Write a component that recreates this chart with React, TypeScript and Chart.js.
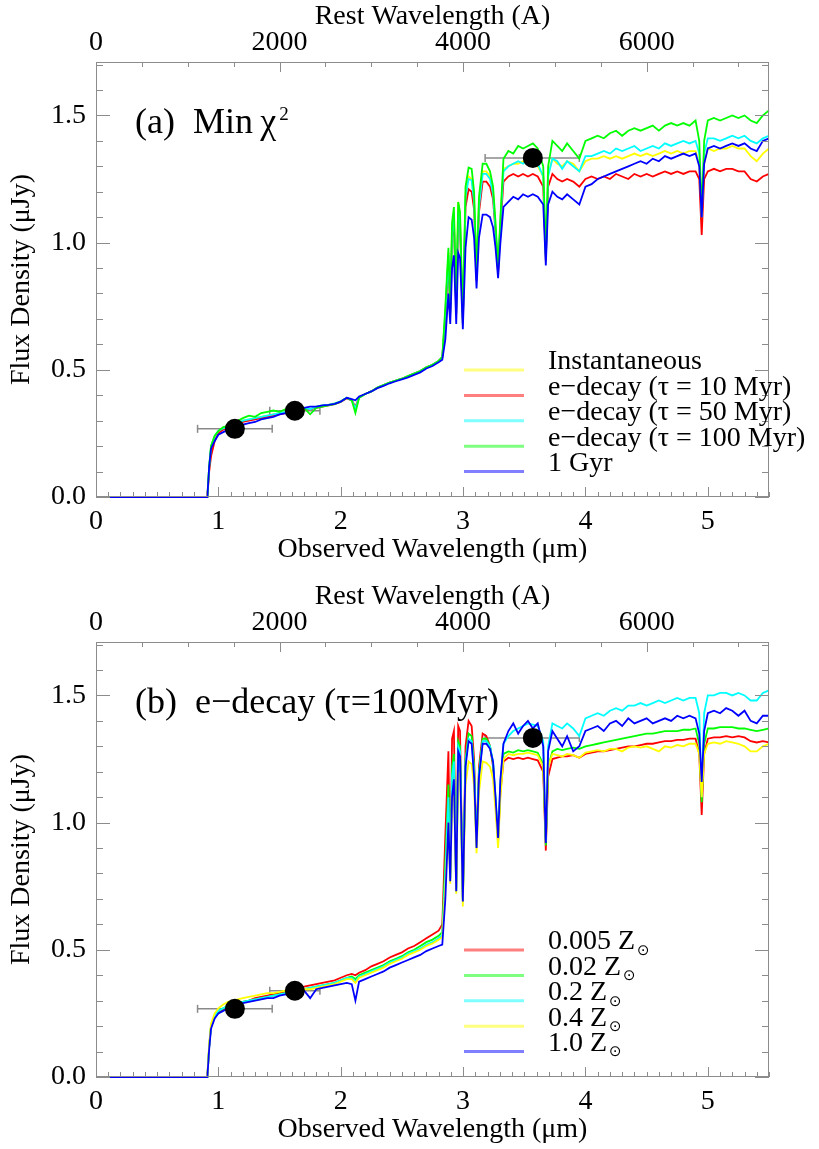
import React, { useEffect, useRef } from "react";
import { Chart, registerables } from "chart.js";
Chart.register(...registerables);

const FONT = "'Liberation Serif', 'Times New Roman', Times, serif";
const ONE_PLUS_Z = 7.5;
const X_MAX_UM = 5.5;
const Y_MIN = 0;
const Y_MAX = 1.71;

// tick labels
const OBS_TICKS_UM = [0, 1, 2, 3, 4, 5];
const REST_TICKS_A = [0, 2000, 4000, 6000];
const FLUX_TICKS = [0, 0.5, 1.0, 1.5];

// observed wavelength grid (micron)
const WAVELENGTH_UM = [
  0.10, 0.91, 0.925, 0.94, 0.97, 1.00, 1.04, 1.08, 1.12, 1.16,
  1.20, 1.25, 1.30, 1.35, 1.40, 1.45, 1.50, 1.55, 1.60, 1.65,
  1.70, 1.75, 1.80, 1.85, 1.90, 1.95, 2.00, 2.05, 2.09, 2.12,
  2.15, 2.20, 2.25, 2.30, 2.35, 2.40, 2.45, 2.50, 2.55, 2.60,
  2.65, 2.70, 2.75, 2.80, 2.83, 2.855, 2.88, 2.895, 2.91, 2.925,
  2.944, 2.96, 2.975, 2.998, 3.02, 3.045, 3.07, 3.09, 3.11, 3.13,
  3.16, 3.19, 3.22, 3.245, 3.265, 3.286, 3.305, 3.33, 3.37, 3.41,
  3.45, 3.49, 3.53, 3.57, 3.61, 3.655, 3.676, 3.695, 3.73, 3.77,
  3.81, 3.85, 3.90, 3.95, 4.00, 4.05, 4.10, 4.15, 4.20, 4.25,
  4.30, 4.35, 4.40, 4.45, 4.50, 4.55, 4.60, 4.65, 4.70, 4.75,
  4.80, 4.85, 4.90, 4.93, 4.95, 4.97, 5.00, 5.05, 5.10, 5.15,
  5.20, 5.25, 5.30, 5.35, 5.40, 5.45, 5.50,
];

// ---- Panel (a): star formation histories ----
const A_INST = [
  0, 0, 0.12, 0.20, 0.24, 0.255, 0.27, 0.275, 0.28, 0.29,
  0.30, 0.305, 0.31, 0.315, 0.32, 0.325, 0.33, 0.335, 0.34, 0.345,
  0.35, 0.345, 0.355, 0.36, 0.362, 0.368, 0.376, 0.39, 0.38, 0.35,
  0.39, 0.405, 0.415, 0.43, 0.44, 0.45, 0.458, 0.465, 0.475, 0.485,
  0.495, 0.51, 0.52, 0.535, 0.55, 0.72, 0.96, 0.74, 1.06, 1.12,
  0.74, 1.16, 1.10, 0.68, 1.19, 1.26, 1.25, 1.17, 0.87, 1.16,
  1.28, 1.28, 1.26, 1.20, 1.06, 0.89, 1.09, 1.29, 1.30, 1.31,
  1.31, 1.32, 1.31, 1.32, 1.30, 1.26, 0.95, 1.27, 1.33, 1.31,
  1.30, 1.32, 1.31, 1.28, 1.32, 1.33, 1.33, 1.34, 1.33, 1.34,
  1.33, 1.34, 1.35, 1.34, 1.35, 1.34, 1.35, 1.36, 1.35, 1.36,
  1.35, 1.36, 1.36, 1.31, 1.08, 1.31, 1.37, 1.36, 1.37, 1.37,
  1.38, 1.37, 1.37, 1.34, 1.32, 1.35, 1.37,
];
const A_TAU10 = [
  0, 0, 0.10, 0.16, 0.22, 0.25, 0.265, 0.27, 0.28, 0.29,
  0.295, 0.30, 0.305, 0.31, 0.315, 0.32, 0.325, 0.33, 0.335, 0.34,
  0.345, 0.345, 0.35, 0.355, 0.36, 0.365, 0.374, 0.388, 0.38, 0.355,
  0.39, 0.405, 0.415, 0.43, 0.44, 0.45, 0.458, 0.465, 0.475, 0.485,
  0.495, 0.51, 0.52, 0.535, 0.55, 0.70, 0.92, 0.72, 1.02, 1.08,
  0.72, 1.10, 1.06, 0.68, 1.14, 1.21, 1.20, 1.13, 0.85, 1.12,
  1.24, 1.24, 1.22, 1.17, 1.04, 0.88, 1.06, 1.24, 1.26, 1.27,
  1.26, 1.27, 1.26, 1.27, 1.26, 1.22, 0.93, 1.22, 1.27, 1.25,
  1.24, 1.25, 1.24, 1.22, 1.25, 1.26, 1.25, 1.26, 1.25, 1.27,
  1.26, 1.25, 1.27, 1.26, 1.27, 1.26, 1.27, 1.28, 1.27, 1.28,
  1.27, 1.28, 1.28, 1.25, 1.03, 1.25, 1.28, 1.29, 1.28, 1.29,
  1.29, 1.28, 1.28, 1.25, 1.24, 1.26, 1.27,
];
const A_TAU50 = [
  0, 0, 0.12, 0.20, 0.24, 0.26, 0.27, 0.275, 0.285, 0.29,
  0.30, 0.305, 0.31, 0.315, 0.32, 0.325, 0.33, 0.335, 0.34, 0.345,
  0.35, 0.345, 0.355, 0.36, 0.362, 0.368, 0.376, 0.39, 0.38, 0.35,
  0.39, 0.405, 0.415, 0.43, 0.44, 0.45, 0.458, 0.465, 0.475, 0.485,
  0.495, 0.51, 0.52, 0.535, 0.55, 0.72, 0.95, 0.72, 1.04, 1.10,
  0.72, 1.12, 1.08, 0.68, 1.18, 1.25, 1.245, 1.16, 0.86, 1.14,
  1.27, 1.27, 1.25, 1.19, 1.05, 0.89, 1.08, 1.28, 1.30, 1.31,
  1.32, 1.31, 1.33, 1.32, 1.31, 1.26, 0.94, 1.26, 1.33, 1.32,
  1.29, 1.32, 1.30, 1.28, 1.34, 1.34, 1.35, 1.36, 1.35, 1.37,
  1.36, 1.37, 1.38, 1.36, 1.37, 1.38, 1.37, 1.39, 1.38, 1.39,
  1.40, 1.39, 1.40, 1.35, 1.10, 1.35, 1.41, 1.41, 1.40, 1.41,
  1.42, 1.41, 1.42, 1.40, 1.39, 1.41, 1.42,
];
const A_TAU100 = [
  0, 0, 0.12, 0.20, 0.24, 0.26, 0.275, 0.28, 0.29, 0.30,
  0.31, 0.32, 0.315, 0.33, 0.335, 0.34, 0.335, 0.345, 0.34, 0.345,
  0.35, 0.325, 0.35, 0.355, 0.36, 0.365, 0.375, 0.39, 0.38, 0.33,
  0.39, 0.405, 0.415, 0.43, 0.44, 0.45, 0.458, 0.465, 0.475, 0.485,
  0.495, 0.51, 0.52, 0.535, 0.55, 0.75, 0.98, 0.74, 1.08, 1.14,
  0.74, 1.16, 1.12, 0.70, 1.22, 1.295, 1.29, 1.20, 0.88, 1.18,
  1.31, 1.31, 1.28, 1.22, 1.08, 0.90, 1.10, 1.33, 1.36, 1.35,
  1.38, 1.37, 1.38, 1.39, 1.37, 1.30, 0.95, 1.30, 1.40, 1.38,
  1.36, 1.39, 1.36, 1.33, 1.40, 1.41, 1.42, 1.41, 1.43, 1.44,
  1.42, 1.44, 1.45, 1.44, 1.45, 1.46, 1.44, 1.46, 1.47, 1.46,
  1.47, 1.46, 1.48, 1.40, 1.12, 1.40, 1.48, 1.49, 1.48, 1.49,
  1.50, 1.49, 1.50, 1.48, 1.47, 1.50, 1.52,
];
const A_1GYR = [
  0, 0, 0.12, 0.19, 0.22, 0.245, 0.255, 0.265, 0.27, 0.275,
  0.285, 0.29, 0.295, 0.305, 0.31, 0.315, 0.325, 0.33, 0.335, 0.345,
  0.35, 0.355, 0.355, 0.36, 0.362, 0.366, 0.375, 0.39, 0.385, 0.38,
  0.395, 0.405, 0.415, 0.428, 0.437, 0.447, 0.455, 0.462, 0.47, 0.48,
  0.49, 0.505, 0.515, 0.53, 0.54, 0.62, 0.80, 0.68, 0.90, 0.95,
  0.68, 0.96, 0.94, 0.66, 0.98, 1.10, 1.09, 1.02, 0.82, 1.02,
  1.11, 1.11, 1.10, 1.06, 0.98, 0.86, 1.00, 1.14, 1.16, 1.18,
  1.17, 1.19, 1.18, 1.19, 1.18, 1.15, 0.91, 1.15, 1.20, 1.18,
  1.17, 1.19, 1.17, 1.15, 1.22, 1.23, 1.25, 1.26, 1.27, 1.28,
  1.29, 1.30, 1.31, 1.32, 1.31, 1.33, 1.32, 1.34, 1.33, 1.34,
  1.35, 1.34, 1.35, 1.30, 1.10, 1.31, 1.37, 1.38, 1.37, 1.38,
  1.39, 1.38, 1.39, 1.37, 1.36, 1.40, 1.41,
];

// ---- Panel (b): metallicities for e-decay tau=100 Myr ----
const B_Z0005 = [
  0, 0, 0.12, 0.20, 0.24, 0.255, 0.265, 0.275, 0.28, 0.29,
  0.295, 0.30, 0.31, 0.315, 0.32, 0.325, 0.33, 0.335, 0.34, 0.345,
  0.355, 0.36, 0.365, 0.37, 0.375, 0.38, 0.39, 0.40, 0.405, 0.40,
  0.41, 0.42, 0.435, 0.445, 0.455, 0.47, 0.48, 0.49, 0.505, 0.515,
  0.53, 0.545, 0.56, 0.575, 0.60, 0.95, 1.28, 0.80, 1.33, 1.36,
  0.74, 1.38, 1.36, 0.70, 1.30, 1.40, 1.38, 1.25, 0.91, 1.22,
  1.35, 1.34, 1.30, 1.22, 1.08, 0.92, 1.12, 1.24, 1.255, 1.25,
  1.255, 1.25, 1.255, 1.25, 1.245, 1.20, 0.89, 1.18, 1.25, 1.255,
  1.26, 1.26, 1.265, 1.255, 1.27, 1.275, 1.28, 1.28, 1.285, 1.29,
  1.295, 1.30, 1.30, 1.305, 1.31, 1.31, 1.315, 1.32, 1.32, 1.325,
  1.325, 1.33, 1.33, 1.27, 1.03, 1.27, 1.33, 1.335, 1.335, 1.34,
  1.335, 1.34, 1.335, 1.32, 1.315, 1.32, 1.315,
];
const B_Z002 = [
  0, 0, 0.12, 0.20, 0.24, 0.26, 0.27, 0.28, 0.285, 0.29,
  0.295, 0.30, 0.305, 0.31, 0.315, 0.32, 0.325, 0.33, 0.335, 0.34,
  0.345, 0.35, 0.355, 0.36, 0.365, 0.37, 0.38, 0.39, 0.395, 0.385,
  0.40, 0.41, 0.42, 0.43, 0.44, 0.455, 0.465, 0.475, 0.49, 0.50,
  0.515, 0.53, 0.54, 0.555, 0.57, 0.85, 1.15, 0.78, 1.22, 1.27,
  0.73, 1.32, 1.30, 0.69, 1.25, 1.35, 1.34, 1.22, 0.91, 1.20,
  1.33, 1.33, 1.30, 1.23, 1.09, 0.93, 1.14, 1.27, 1.28, 1.275,
  1.285, 1.28, 1.285, 1.28, 1.275, 1.23, 0.91, 1.22, 1.28, 1.29,
  1.285, 1.29, 1.295, 1.29, 1.30, 1.305, 1.31, 1.315, 1.32, 1.325,
  1.33, 1.335, 1.34, 1.345, 1.35, 1.35, 1.355, 1.36, 1.36, 1.36,
  1.365, 1.365, 1.37, 1.31, 1.08, 1.31, 1.37, 1.37, 1.375, 1.375,
  1.375, 1.37, 1.37, 1.365, 1.36, 1.365, 1.37,
];
const B_Z02 = [
  0, 0, 0.12, 0.20, 0.24, 0.26, 0.27, 0.28, 0.285, 0.29,
  0.295, 0.30, 0.305, 0.31, 0.315, 0.32, 0.325, 0.33, 0.335, 0.34,
  0.345, 0.35, 0.355, 0.36, 0.365, 0.37, 0.38, 0.39, 0.39, 0.375,
  0.395, 0.405, 0.415, 0.425, 0.435, 0.45, 0.46, 0.47, 0.485, 0.495,
  0.505, 0.52, 0.53, 0.545, 0.56, 0.80, 1.10, 0.78, 1.18, 1.24,
  0.73, 1.30, 1.28, 0.69, 1.24, 1.33, 1.32, 1.20, 0.90, 1.19,
  1.32, 1.32, 1.30, 1.24, 1.10, 0.93, 1.16, 1.31, 1.34, 1.36,
  1.37, 1.38, 1.39, 1.385, 1.38, 1.32, 0.93, 1.30, 1.39, 1.38,
  1.37, 1.39, 1.37, 1.34, 1.41, 1.42, 1.43, 1.42, 1.44, 1.45,
  1.44, 1.46, 1.46, 1.47, 1.46, 1.47, 1.48, 1.47, 1.48, 1.49,
  1.48, 1.49, 1.49, 1.43, 1.10, 1.43, 1.50, 1.50, 1.51, 1.51,
  1.50, 1.51, 1.50, 1.48, 1.48, 1.51, 1.52,
];
const B_Z04 = [
  0, 0, 0.13, 0.21, 0.25, 0.27, 0.285, 0.295, 0.30, 0.305,
  0.31, 0.315, 0.32, 0.325, 0.33, 0.33, 0.335, 0.34, 0.34, 0.345,
  0.345, 0.345, 0.35, 0.355, 0.36, 0.365, 0.375, 0.385, 0.385, 0.37,
  0.39, 0.40, 0.41, 0.42, 0.43, 0.445, 0.455, 0.465, 0.48, 0.49,
  0.50, 0.515, 0.525, 0.54, 0.55, 0.75, 1.00, 0.76, 1.08, 1.14,
  0.72, 1.20, 1.19, 0.67, 1.15, 1.24, 1.23, 1.14, 0.88, 1.12,
  1.24, 1.235, 1.22, 1.17, 1.05, 0.90, 1.10, 1.25, 1.27, 1.265,
  1.27, 1.27, 1.275, 1.27, 1.265, 1.22, 0.95, 1.22, 1.27, 1.265,
  1.26, 1.27, 1.265, 1.255, 1.275, 1.28, 1.285, 1.28, 1.29, 1.29,
  1.28, 1.295, 1.30, 1.295, 1.30, 1.29, 1.28, 1.30, 1.295, 1.305,
  1.30, 1.31, 1.31, 1.27, 1.10, 1.27, 1.31, 1.315, 1.31, 1.32,
  1.315, 1.31, 1.30, 1.28, 1.28, 1.30, 1.31,
];
const B_Z1 = [
  0, 0, 0.11, 0.19, 0.23, 0.25, 0.26, 0.27, 0.28, 0.285,
  0.29, 0.295, 0.30, 0.305, 0.31, 0.31, 0.32, 0.325, 0.33, 0.335,
  0.34, 0.31, 0.345, 0.35, 0.355, 0.36, 0.365, 0.37, 0.365, 0.30,
  0.375, 0.385, 0.395, 0.405, 0.415, 0.43, 0.44, 0.45, 0.46, 0.47,
  0.48, 0.495, 0.505, 0.515, 0.52, 0.70, 1.00, 0.77, 1.10, 1.17,
  0.73, 1.28, 1.26, 0.69, 1.22, 1.32, 1.31, 1.18, 0.90, 1.18,
  1.31, 1.31, 1.29, 1.24, 1.10, 0.94, 1.17, 1.31, 1.36, 1.39,
  1.35, 1.38, 1.40, 1.37, 1.39, 1.30, 0.92, 1.28, 1.36, 1.33,
  1.30, 1.34, 1.28, 1.30, 1.36, 1.37, 1.38, 1.36, 1.39, 1.40,
  1.38, 1.41, 1.39, 1.40, 1.41, 1.39, 1.40, 1.41, 1.40, 1.42,
  1.41, 1.42, 1.41, 1.35, 1.16, 1.36, 1.43, 1.44, 1.43, 1.45,
  1.44, 1.42, 1.44, 1.40, 1.39, 1.42, 1.42,
];

// photometry
const PHOT_X_UM = [1.135, 1.625, 3.57];
const PHOT_FLUX = [0.268, 0.339, 1.333];
const PHOT_XLO_UM = [0.83, 1.42, 3.18];
const PHOT_XHI_UM = [1.44, 1.83, 3.95];

const LABELS_A = [
  "Instantaneous",
  "e\u2212decay (\u03c4 = 10 Myr)",
  "e\u2212decay (\u03c4 = 50 Myr)",
  "e\u2212decay (\u03c4 = 100 Myr)",
  "1 Gyr",
];
const LABELS_B = ["0.005 Z", "0.02 Z", "0.2 Z", "0.4 Z", "1.0 Z"];
const SUN = "\u2299";

const PANELS = [
  {
    key: "a",
    height: 580,
    title: "(a)  Min\u2009\u03c7",
    sup: "2",
    sub: "",
    series: [
      { label: LABELS_A[0], color: "#ffff00", data: A_INST, order: 6 },
      { label: LABELS_A[1], color: "#ff0000", data: A_TAU10, order: 5 },
      { label: LABELS_A[2], color: "#00ffff", data: A_TAU50, order: 4 },
      { label: LABELS_A[3], color: "#00ff00", data: A_TAU100, order: 3 },
      { label: LABELS_A[4], color: "#0000ff", data: A_1GYR, order: 2 },
    ],
  },
  {
    key: "b",
    height: 569,
    title: "(b)  e\u2212decay (\u03c4=100Myr)",
    sup: "",
    sub: SUN,
    series: [
      { label: LABELS_B[0], color: "#ff0000", data: B_Z0005, order: 6 },
      { label: LABELS_B[1], color: "#00ff00", data: B_Z002, order: 5 },
      { label: LABELS_B[2], color: "#00ffff", data: B_Z02, order: 4 },
      { label: LABELS_B[3], color: "#ffff00", data: B_Z04, order: 3 },
      { label: LABELS_B[4], color: "#0000ff", data: B_Z1, order: 2 },
    ],
  },
];

const FRAME = "#8c8c8c";
const AREA_TOP = 62;
const AREA_BOTTOM = 497;
const AREA_LEFT = 96;
const AREA_RIGHT = 769;

function decorPlugin(panel: any) {
  return {
    id: "decor" + panel.key,
    afterDraw(chart: any) {
      const { ctx, chartArea: a, scales } = chart;
      ctx.save();
      ctx.strokeStyle = FRAME;
      ctx.lineWidth = 1;
      ctx.strokeRect(a.left + 0.5, a.top + 0.5, a.right - a.left - 1, a.bottom - a.top - 1);
      const line = (x1: number, y1: number, x2: number, y2: number) => {
        ctx.beginPath();
        ctx.moveTo(x1, y1);
        ctx.lineTo(x2, y2);
        ctx.stroke();
      };
      // bottom axis ticks (observed, micron)
      const sx = scales.x;
      for (let k = 0; k * 0.1 <= sx.max + 1e-9; k++) {
        const px = Math.round(sx.getPixelForValue(k * 0.1)) + 0.5;
        const len = k % 10 === 0 ? 10 : 5;
        line(px, a.bottom, px, a.bottom - len);
      }
      // top axis ticks (rest frame, Angstrom)
      const sx2 = scales.x2;
      for (let k = 0; k * 500 <= sx2.max + 1e-9; k++) {
        const px = Math.round(sx2.getPixelForValue(k * 500)) + 0.5;
        const len = k % 4 === 0 ? 10 : 5;
        line(px, a.top, px, a.top + len);
      }
      // y ticks both sides
      const sy = scales.y;
      for (let k = 0; k * 0.1 <= sy.max + 1e-9; k++) {
        const py = Math.round(sy.getPixelForValue(k * 0.1)) + 0.5;
        const len = k % 5 === 0 ? 14 : 7;
        line(a.left, py, a.left + len, py);
        line(a.right, py, a.right - len, py);
      }
      // title
      ctx.fillStyle = "#000";
      ctx.textBaseline = "alphabetic";
      ctx.textAlign = "left";
      ctx.font = `36px ${FONT}`;
      ctx.fillText(panel.title, 135, 133);
      if (panel.sup) {
        const w = ctx.measureText(panel.title).width;
        ctx.font = `19px ${FONT}`;
        ctx.fillText(panel.sup, 135 + w + 3, 120);
      }
      // legend
      const metas = chart.data.datasets;
      panel.series.forEach((s: any, i: number) => {
        const ly = 370 + i * 25.4;
        ctx.save();
        ctx.globalAlpha = 0.5;
        ctx.strokeStyle = metas[i].borderColor;
        ctx.lineWidth = 3;
        line(464, ly, 524, ly);
        ctx.restore();
        ctx.fillStyle = "#000";
        ctx.font = `28px ${FONT}`;
        ctx.textBaseline = "middle";
        ctx.fillText(metas[i].label, 548, ly - 8);
        if (panel.sub) {
          const w = ctx.measureText(metas[i].label).width;
          ctx.font = `15px 'DejaVu Sans', sans-serif`;
          ctx.fillText(panel.sub, 548 + w + 2, ly + 1);
        }
      });
      ctx.restore();
    },
  };
}

function fixedTicks(values: number[]) {
  return (s: any) => {
    s.ticks = values.map((v) => ({ value: v }));
  };
}

function buildConfig(panel: any) {
  const tickFont = { family: FONT, size: 28 };
  const spectra = panel.series.map((s: any) => ({
    type: "line",
    label: s.label,
    data: WAVELENGTH_UM.map((x, i) => ({ x, y: s.data[i] })),
    borderColor: s.color,
    backgroundColor: s.color,
    borderWidth: 1.8,
    pointRadius: 0,
    tension: 0,
    order: s.order,
    clip: false,
    xAxisID: "x",
    yAxisID: "y",
  }));
  const bars = PHOT_X_UM.map((_, i) => ({
    type: "line",
    label: "err" + i,
    data: [
      { x: PHOT_XLO_UM[i], y: PHOT_FLUX[i] },
      { x: PHOT_XHI_UM[i], y: PHOT_FLUX[i] },
    ],
    borderColor: "#8a8a8a",
    borderWidth: 1.5,
    pointStyle: "line",
    pointRotation: 90,
    pointRadius: 4,
    pointBorderColor: "#8a8a8a",
    pointBorderWidth: 1.5,
    order: 10,
    xAxisID: "x",
    yAxisID: "y",
  }));
  const dots = {
    type: "scatter",
    label: "phot",
    data: PHOT_X_UM.map((x, i) => ({ x, y: PHOT_FLUX[i] })),
    pointRadius: 10,
    pointBackgroundColor: "#000",
    pointBorderColor: "#000",
    pointBorderWidth: 0,
    showLine: false,
    order: 0,
    xAxisID: "x",
    yAxisID: "y",
  };
  return {
    type: "line",
    data: { datasets: [...spectra, ...bars, dots] },
    options: {
      animation: false,
      responsive: false,
      events: [],
      layout: { padding: { left: 0, right: 819 - AREA_RIGHT, top: 0, bottom: 0 } },
      plugins: { legend: { display: false }, tooltip: { enabled: false }, title: { display: false } },
      scales: {
        x: {
          type: "linear",
          position: "bottom",
          min: 0,
          max: X_MAX_UM,
          afterBuildTicks: fixedTicks(OBS_TICKS_UM),
          afterFit: (s: any) => { s.height = panel.height - AREA_BOTTOM; },
          grid: { display: false, drawTicks: false },
          border: { display: false },
          ticks: {
            autoSkip: false, maxRotation: 0, minRotation: 0,
            padding: 8, color: "#000", font: tickFont,
            callback: (v: any) => String(v),
          },
          title: {
            display: true, text: "Observed Wavelength (\u03bcm)", color: "#000", font: tickFont,
            padding: { top: 0, bottom: panel.height - 550 - 16.8 },
          },
        },
        x2: {
          type: "linear",
          position: "top",
          min: 0,
          max: (X_MAX_UM / ONE_PLUS_Z) * 1e4,
          afterBuildTicks: fixedTicks(REST_TICKS_A),
          afterFit: (s: any) => { s.height = AREA_TOP; },
          grid: { display: false, drawTicks: false },
          border: { display: false },
          ticks: {
            autoSkip: false, maxRotation: 0, minRotation: 0,
            padding: 3, color: "#000", font: tickFont,
            callback: (v: any) => String(v),
          },
          title: {
            display: true, text: "Rest Wavelength (A)", color: "#000", font: tickFont,
            padding: { top: 0, bottom: 0 },
          },
        },
        y: {
          type: "linear",
          position: "left",
          min: Y_MIN,
          max: Y_MAX,
          afterBuildTicks: fixedTicks(FLUX_TICKS),
          afterFit: (s: any) => { s.width = AREA_LEFT; },
          grid: { display: false, drawTicks: false },
          border: { display: false },
          ticks: {
            autoSkip: false,
            padding: 10, color: "#000", font: tickFont,
            callback: (v: any) => Number(v).toFixed(1),
          },
          title: {
            display: true, text: "Flux Density (\u03bcJy)", color: "#000", font: tickFont,
            padding: { top: 5, bottom: 0 },
          },
        },
      },
    },
    plugins: [decorPlugin(panel)],
  };
}

function SedPanel({ panel }: { panel: any }) {
  const ref = useRef<HTMLCanvasElement | null>(null);
  useEffect(() => {
    if (!ref.current) return;
    const chart = new Chart(ref.current, buildConfig(panel) as any);
    return () => chart.destroy();
  }, [panel]);
  return (
    <canvas
      ref={ref}
      width={819}
      height={panel.height}
      style={{ display: "block", width: 819, height: panel.height }}
    />
  );
}

export default function App() {
  return (
    <div style={{ position: "absolute", left: 0, top: 0, width: 819, height: 1149, background: "#fff", overflow: "hidden" }}>
      {PANELS.map((p) => (
        <SedPanel key={p.key} panel={p} />
      ))}
    </div>
  );
}
